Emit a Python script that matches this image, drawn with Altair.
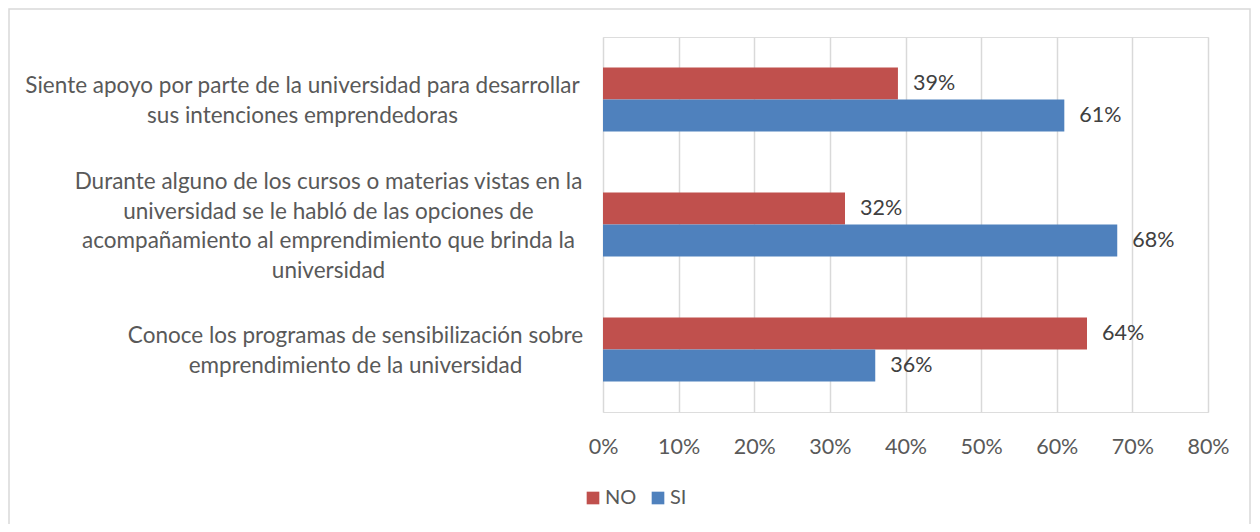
import altair as alt
import pandas as pd

categories = [
    "Siente apoyo por parte de la universidad para desarrollar|sus intenciones emprendedoras",
    "Durante alguno de los cursos o materias vistas en la|universidad se le habló de las opciones de|acompañamiento al emprendimiento que brinda la|universidad",
    "Conoce los programas de sensibilización sobre|emprendimiento de la universidad",
]
series = ["NO", "SI"]
no_values = [0.39, 0.32, 0.64]
si_values = [0.61, 0.68, 0.36]
x_ticks = [0, 0.1, 0.2, 0.3, 0.4, 0.5, 0.6, 0.7, 0.8]
colors = ["#C0504D", "#4F81BD"]

rows = []
for c, n, s in zip(categories, no_values, si_values):
    rows.append({"cat": c, "serie": "NO", "val": n})
    rows.append({"cat": c, "serie": "SI", "val": s})
df = pd.DataFrame(rows)

W, H = 605, 375
FONT = "Lato"
TXT = "#595959"
FS = 22.5
LH = 29.5

pad_cond = {
    "condition": [
        {"test": f"datum.value == '{categories[0]}'", "value": 301},
        {"test": f"datum.value == '{categories[1]}'", "value": 275},
    ],
    "value": 248,
}
off_cond = {
    "condition": [
        {"test": f"datum.value == '{categories[1]}'", "value": -1.5 * LH + 2},
    ],
    "value": -0.5 * LH + 1.5,
}

base = alt.Chart(df).encode(
    y=alt.Y("cat:N", sort=categories, title=None,
            scale=alt.Scale(paddingInner=0.488, paddingOuter=0.244),
            axis=alt.Axis(labelExpr="split(datum.label, '|')", labelAlign="center",
                          labelPadding=pad_cond, labelOffset=off_cond,
                          labelFont=FONT, labelFontSize=FS,
                          labelColor=TXT, labelLineHeight=LH, domain=False, ticks=False,
                          labelBaseline="middle", labelLimit=0)),
    yOffset=alt.YOffset("serie:N", sort=series, scale=alt.Scale(paddingInner=0, paddingOuter=0)),
)

bars = base.mark_bar().encode(
    x=alt.X("val:Q", title=None,
            scale=alt.Scale(domain=[0, 0.8], nice=False),
            axis=alt.Axis(values=x_ticks, format=".0%", labelFont=FONT, labelFontSize=21.5,
                          labelColor=TXT, labelPadding=24, labelFlush=False,
                          domain=False, ticks=False,
                          gridColor="#d9d9d9", gridWidth=1.5)),
    color=alt.Color("serie:N", sort=series, scale=alt.Scale(domain=series, range=colors),
                    legend=alt.Legend(title=None, orient="none", legendX=-20, legendY=451,
                                      direction="horizontal", symbolType="square",
                                      symbolSize=160, symbolStrokeWidth=0,
                                      labelFont=FONT, labelFontSize=20, labelColor=TXT,
                                      columnPadding=11, labelOffset=2)),
)

labels = base.mark_text(align="left", baseline="middle", dx=15, font=FONT,
                        fontSize=21.5, color="#404040").encode(
    x="val:Q",
    text=alt.Text("val:Q", format=".0%"),
)

border = alt.Chart(alt.Data(values=[{}])).mark_rect(
    fill=None, stroke="#d9d9d9", strokeWidth=1.5
).encode(
    x=alt.value(-594), x2=alt.value(647), y=alt.value(-28), y2=alt.value(500)
)

chart = alt.layer(border, bars, labels).properties(
    width=W, height=H,
    autosize=alt.AutoSizeParams(type="none"),
    padding={"left": 595, "top": 29, "right": 44, "bottom": 112},
).configure_view(stroke=None).configure(background="white")

chart.save("out.html", embed_options={"renderer": "svg", "actions": False})
